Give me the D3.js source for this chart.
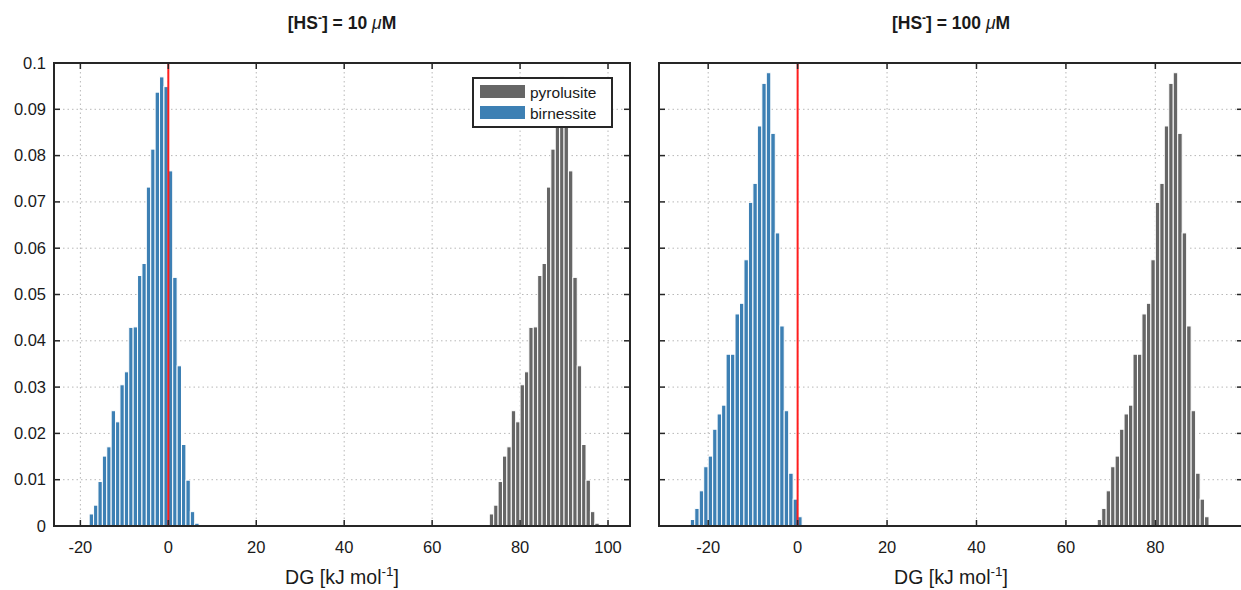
<!DOCTYPE html>
<html>
<head>
<meta charset="utf-8">
<script src="https://d3js.org/d3.v7.min.js"></script>
<style>
  body { margin: 0; background: #fff; }
  text { font-family: "Liberation Sans", Arial, sans-serif; fill: #1a1a1a; }
</style>
</head>
<body>
<div id="visualization"></div>
<script>
// histogram data (probability per 1 kJ/mol bin)
const binWidth = 1;

// [HS-] = 10 uM
const birnessite10Start = -18;
const birnessite10 = [0.0026, 0.0045, 0.0096, 0.0151, 0.0171, 0.0249, 0.0225, 0.0305, 0.0333, 0.0429,
                      0.0430, 0.0541, 0.0567, 0.0732, 0.0814, 0.0937, 0.0970, 0.0949, 0.0767, 0.0537,
                      0.0346, 0.0176, 0.0099, 0.0031, 0.0006];
const pyrolusite10Start = 73;
const pyrolusite10 = [0.0026, 0.0045, 0.0096, 0.0151, 0.0171, 0.0249, 0.0225, 0.0305, 0.0333, 0.0429,
                      0.0430, 0.0541, 0.0567, 0.0732, 0.0814, 0.0937, 0.0970, 0.0949, 0.0767, 0.0537,
                      0.0346, 0.0176, 0.0099, 0.0031, 0.0006];

// [HS-] = 100 uM
const birnessite100Start = -24;
const birnessite100 = [0.0014, 0.0038, 0.0076, 0.0128, 0.0151, 0.0209, 0.0242, 0.0261, 0.0371, 0.0371,
                       0.0458, 0.0481, 0.0575, 0.0699, 0.0740, 0.0864, 0.0956, 0.0979, 0.0848, 0.0633,
                       0.0432, 0.0249, 0.0114, 0.0058, 0.0020];
const pyrolusite100Start = 67;
const pyrolusite100 = [0.0014, 0.0038, 0.0076, 0.0128, 0.0151, 0.0209, 0.0242, 0.0261, 0.0371, 0.0371,
                       0.0458, 0.0481, 0.0575, 0.0699, 0.0740, 0.0864, 0.0956, 0.0979, 0.0848, 0.0633,
                       0.0432, 0.0249, 0.0114, 0.0058, 0.0020];

const concentrations = ["10", "100"];
const xLimits = [[-26, 105], [-31, 99.6]];
const xTickValues = [[-20, 0, 20, 40, 60, 80, 100], [-20, 0, 20, 40, 60, 80]];
const yTickValues = [0, 0.01, 0.02, 0.03, 0.04, 0.05, 0.06, 0.07, 0.08, 0.09, 0.1];
const seriesNames = ["pyrolusite", "birnessite"];

function main(){
    let width = 1241;
    let height = 590;
    const colors = { pyrolusite: "#666666", birnessite: "#3d80b4" };
    const axisColor = "#262626";

    let svg = d3.select(document.getElementById('visualization'))
        .append('svg')
        .attr('width', width)
        .attr('height', height);

    // panel boxes in pixels
    const panels = [
        { x0: 54, x1: 630, series: [[pyrolusite10Start, pyrolusite10, "pyrolusite"], [birnessite10Start, birnessite10, "birnessite"]], yLabels: true, legend: true },
        { x0: 659, x1: 1243, series: [[pyrolusite100Start, pyrolusite100, "pyrolusite"], [birnessite100Start, birnessite100, "birnessite"]], yLabels: false, legend: false }
    ];
    const top = 63, bottom = 526;

    let y = d3.scaleLinear().domain([0, 0.1]).range([bottom, top]);

    panels.forEach((p, i) => {
        let x = d3.scaleLinear().domain(xLimits[i]).range([p.x0, p.x1]);
        let g = svg.append('g');

        // dotted grid
        g.selectAll('.gx').data(xTickValues[i]).enter().append('line')
            .attr('x1', d => x(d)).attr('x2', d => x(d))
            .attr('y1', top).attr('y2', bottom)
            .attr('stroke', '#b8b8b8').attr('stroke-dasharray', '1.5,3');
        g.selectAll('.gy').data(yTickValues.slice(1, -1)).enter().append('line')
            .attr('x1', p.x0).attr('x2', p.x1)
            .attr('y1', d => y(d)).attr('y2', d => y(d))
            .attr('stroke', '#b8b8b8').attr('stroke-dasharray', '1.5,3');

        // histogram bars
        p.series.forEach(([start, values, name]) => {
            g.selectAll(null)
                .data(values)
                .enter()
                .append('rect')
                    .attr('x', (d, k) => x(start + k * binWidth))
                    .attr('width', (d, k) => x(start + (k + 1) * binWidth) - x(start + k * binWidth))
                    .attr('y', d => y(d))
                    .attr('height', d => y(0) - y(d))
                    .attr('fill', colors[name])
                    .attr('stroke', '#fff')
                    .attr('stroke-width', 1);
        });

        // zero line
        g.append('line')
            .attr('x1', x(0)).attr('x2', x(0))
            .attr('y1', top).attr('y2', bottom)
            .attr('stroke', '#ff1e1e').attr('stroke-width', 2);

        // ticks (inward, all four sides)
        let tl = 6;
        xTickValues[i].forEach(t => {
            g.append('line').attr('x1', x(t)).attr('x2', x(t)).attr('y1', bottom).attr('y2', bottom - tl)
                .attr('stroke', axisColor).attr('stroke-width', 1.5);
            g.append('line').attr('x1', x(t)).attr('x2', x(t)).attr('y1', top).attr('y2', top + tl)
                .attr('stroke', axisColor).attr('stroke-width', 1.5);
        });
        yTickValues.forEach(t => {
            g.append('line').attr('x1', p.x0).attr('x2', p.x0 + tl).attr('y1', y(t)).attr('y2', y(t))
                .attr('stroke', axisColor).attr('stroke-width', 1.5);
            g.append('line').attr('x1', p.x1).attr('x2', p.x1 - tl).attr('y1', y(t)).attr('y2', y(t))
                .attr('stroke', axisColor).attr('stroke-width', 1.5);
        });

        // frame
        g.append('rect')
            .attr('x', p.x0).attr('y', top)
            .attr('width', p.x1 - p.x0).attr('height', bottom - top)
            .attr('fill', 'none').attr('stroke', axisColor).attr('stroke-width', 2);

        // tick labels
        g.selectAll('.xl').data(xTickValues[i]).enter().append('text')
            .attr('x', d => x(d)).attr('y', bottom + 27)
            .attr('text-anchor', 'middle').attr('font-size', '16.5px')
            .text(d => d);
        if (p.yLabels) {
            g.selectAll('.yl').data(yTickValues).enter().append('text')
                .attr('x', p.x0 - 8).attr('y', d => y(d) + 5.5)
                .attr('text-anchor', 'end').attr('font-size', '16.5px')
                .text(d => d3.format('~g')(d));
        }

        let cx = (p.x0 + p.x1) / 2;

        // x label: DG [kJ mol^-1]
        let xl = g.append('text').attr('x', cx).attr('y', 584)
            .attr('text-anchor', 'middle').attr('font-size', '19.5px');
        xl.append('tspan').text('DG [kJ mol');
        xl.append('tspan').attr('dy', -8).attr('font-size', '13.5px').text('-1');
        xl.append('tspan').attr('dy', 8).text(']');

        // title: [HS^-] = c uM
        let tt = g.append('text').attr('x', cx).attr('y', 29)
            .attr('text-anchor', 'middle').attr('font-size', '17.5px').attr('font-weight', 'bold');
        tt.append('tspan').text('[HS');
        tt.append('tspan').attr('dy', -7).attr('font-size', '12px').text('-');
        tt.append('tspan').attr('dy', 7).text('] = ' + concentrations[i] + ' ');
        tt.append('tspan').attr('font-style', 'italic').attr('font-weight', 'normal').text('μ');
        tt.append('tspan').text('M');

        // legend
        if (p.legend) {
            let lg = g.append('g');
            lg.append('rect').attr('x', 473).attr('y', 78).attr('width', 139).attr('height', 49)
                .attr('fill', '#fff').attr('stroke', axisColor).attr('stroke-width', 2);
            seriesNames.forEach((s, k) => {
                lg.append('rect').attr('x', 480).attr('y', 85 + k * 21).attr('width', 45).attr('height', 13)
                    .attr('fill', colors[s]);
                lg.append('text').attr('x', 530).attr('y', 97.5 + k * 21)
                    .attr('font-size', '15.5px').text(s);
            });
        }
    });
}

window.onload = () => {
    main();
}
</script>
</body>
</html>
